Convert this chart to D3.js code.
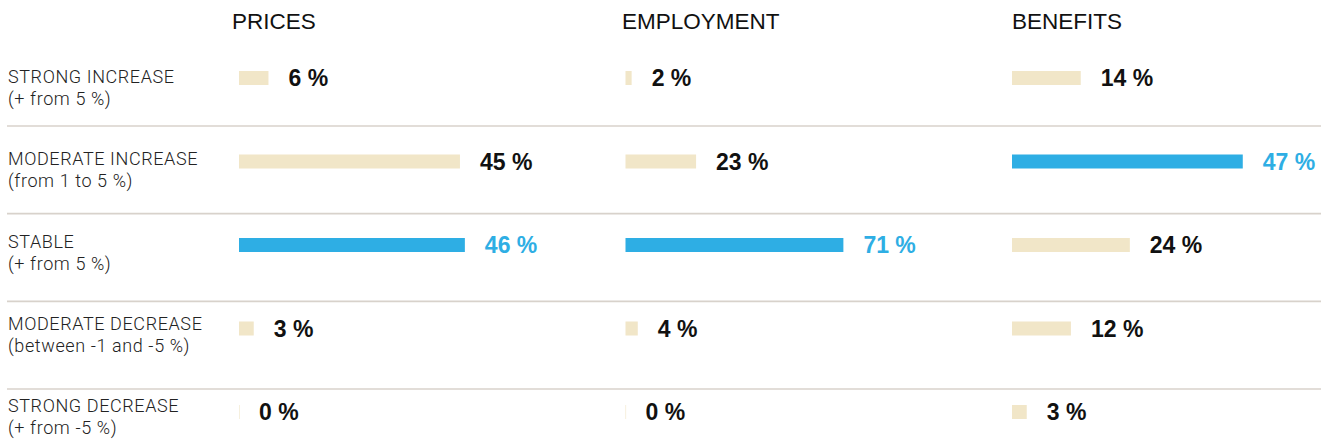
<!DOCTYPE html>
<html>
<head>
<meta charset="utf-8">
<script src="https://cdn.jsdelivr.net/npm/d3@7"></script>
<style>
  html, body { margin: 0; padding: 0; background: #fff; }
  svg { display: block; }
  .head { font-family: "Liberation Sans", Arial, sans-serif; font-weight: 400; font-size: 22.5px; fill: #111; }
  .rowlab { font-family: Roboto, "Noto Sans", sans-serif; font-weight: 300; font-size: 18px; letter-spacing: 0.6px; fill: #222; }
  .val { font-family: "Liberation Sans", Arial, sans-serif; font-weight: 700; font-size: 23px; }
</style>
</head>
<body>
<svg id="chart" width="1332" height="448"></svg>
<script>
// Survey answers: share of respondents per expected change
const categories = ["STRONG INCREASE", "MODERATE INCREASE", "STABLE", "MODERATE DECREASE", "STRONG DECREASE"];
const categoryNotes = ["(+ from 5 %)", "(from 1 to 5 %)", "(+ from 5 %)", "(between -1 and -5 %)", "(+ from -5 %)"];
const topics = ["PRICES", "EMPLOYMENT", "BENEFITS"];
const prices = [6, 45, 46, 3, 0];
const employment = [2, 23, 71, 4, 0];
const benefits = [14, 47, 24, 12, 3];

const seriesByTopic = [prices, employment, benefits];

const svg = d3.select("#chart");

const BEIGE = "#f1e6c8";
const BLUE = "#2eaee4";
const RULE = "#d8d2cb";
const barH = 14;
const barSpan = 245.5;

// Layout scales
const colX = d3.scalePoint().domain(topics).range([239, 1012]);
const headX = d3.scalePoint().domain(topics).range([232, 1012]);
const rowY = d3.scalePoint().domain(categories).range([78, 412]);
const labY = d3.scalePoint().domain(categories).range([83, 412]);
const ruleY = d3.scalePoint().domain(categories.slice(0, 4)).range([126, 389]);

// Column headers
svg.selectAll("text.head")
  .data(topics)
  .join("text")
  .attr("class", "head")
  .attr("x", d => headX(d))
  .attr("y", 29)
  .text(d => d);

// Separators between rows
svg.selectAll("line.rule")
  .data(categories.slice(0, 4))
  .join("line")
  .attr("class", "rule")
  .attr("x1", 7).attr("x2", 1321)
  .attr("y1", d => ruleY(d)).attr("y2", d => ruleY(d))
  .attr("stroke", RULE)
  .attr("stroke-width", 1.6);

// Row labels (two lines)
const rl = svg.selectAll("g.rowlab")
  .data(categories)
  .join("g")
  .attr("class", "rowlab")
  .attr("transform", d => `translate(8,${labY(d)})`);
rl.append("text").attr("class", "rowlab").attr("y", 0).text(d => d);
rl.append("text").attr("class", "rowlab").attr("y", 22).text((d, i) => categoryNotes[i]);

// One bar group per topic, each with its own nice'd scale
topics.forEach((topic, ti) => {
  const values = seriesByTopic[ti];
  const maxV = d3.max(values);
  const x = d3.scaleLinear()
    .domain([0, maxV]).nice()
    .range([colX(topic), colX(topic) + barSpan]);

  const rows = categories.map((c, i) => ({ cat: c, v: values[i], top: values[i] === maxV }));
  const g = svg.append("g").attr("class", "topic");

  g.selectAll("rect")
    .data(rows)
    .join("rect")
    .attr("x", x(0))
    .attr("y", d => rowY(d.cat) - barH / 2)
    .attr("width", d => Math.max(x(d.v) - x(0), 0.6))
    .attr("height", barH)
    .attr("fill", d => d.top ? BLUE : BEIGE);

  g.selectAll("text")
    .data(rows)
    .join("text")
    .attr("class", "val")
    .attr("x", d => x(d.v) + 20)
    .attr("y", d => rowY(d.cat) + 8)
    .attr("fill", d => d.top ? BLUE : "#111")
    .text(d => `${d.v} %`);
});
</script>
</body>
</html>
